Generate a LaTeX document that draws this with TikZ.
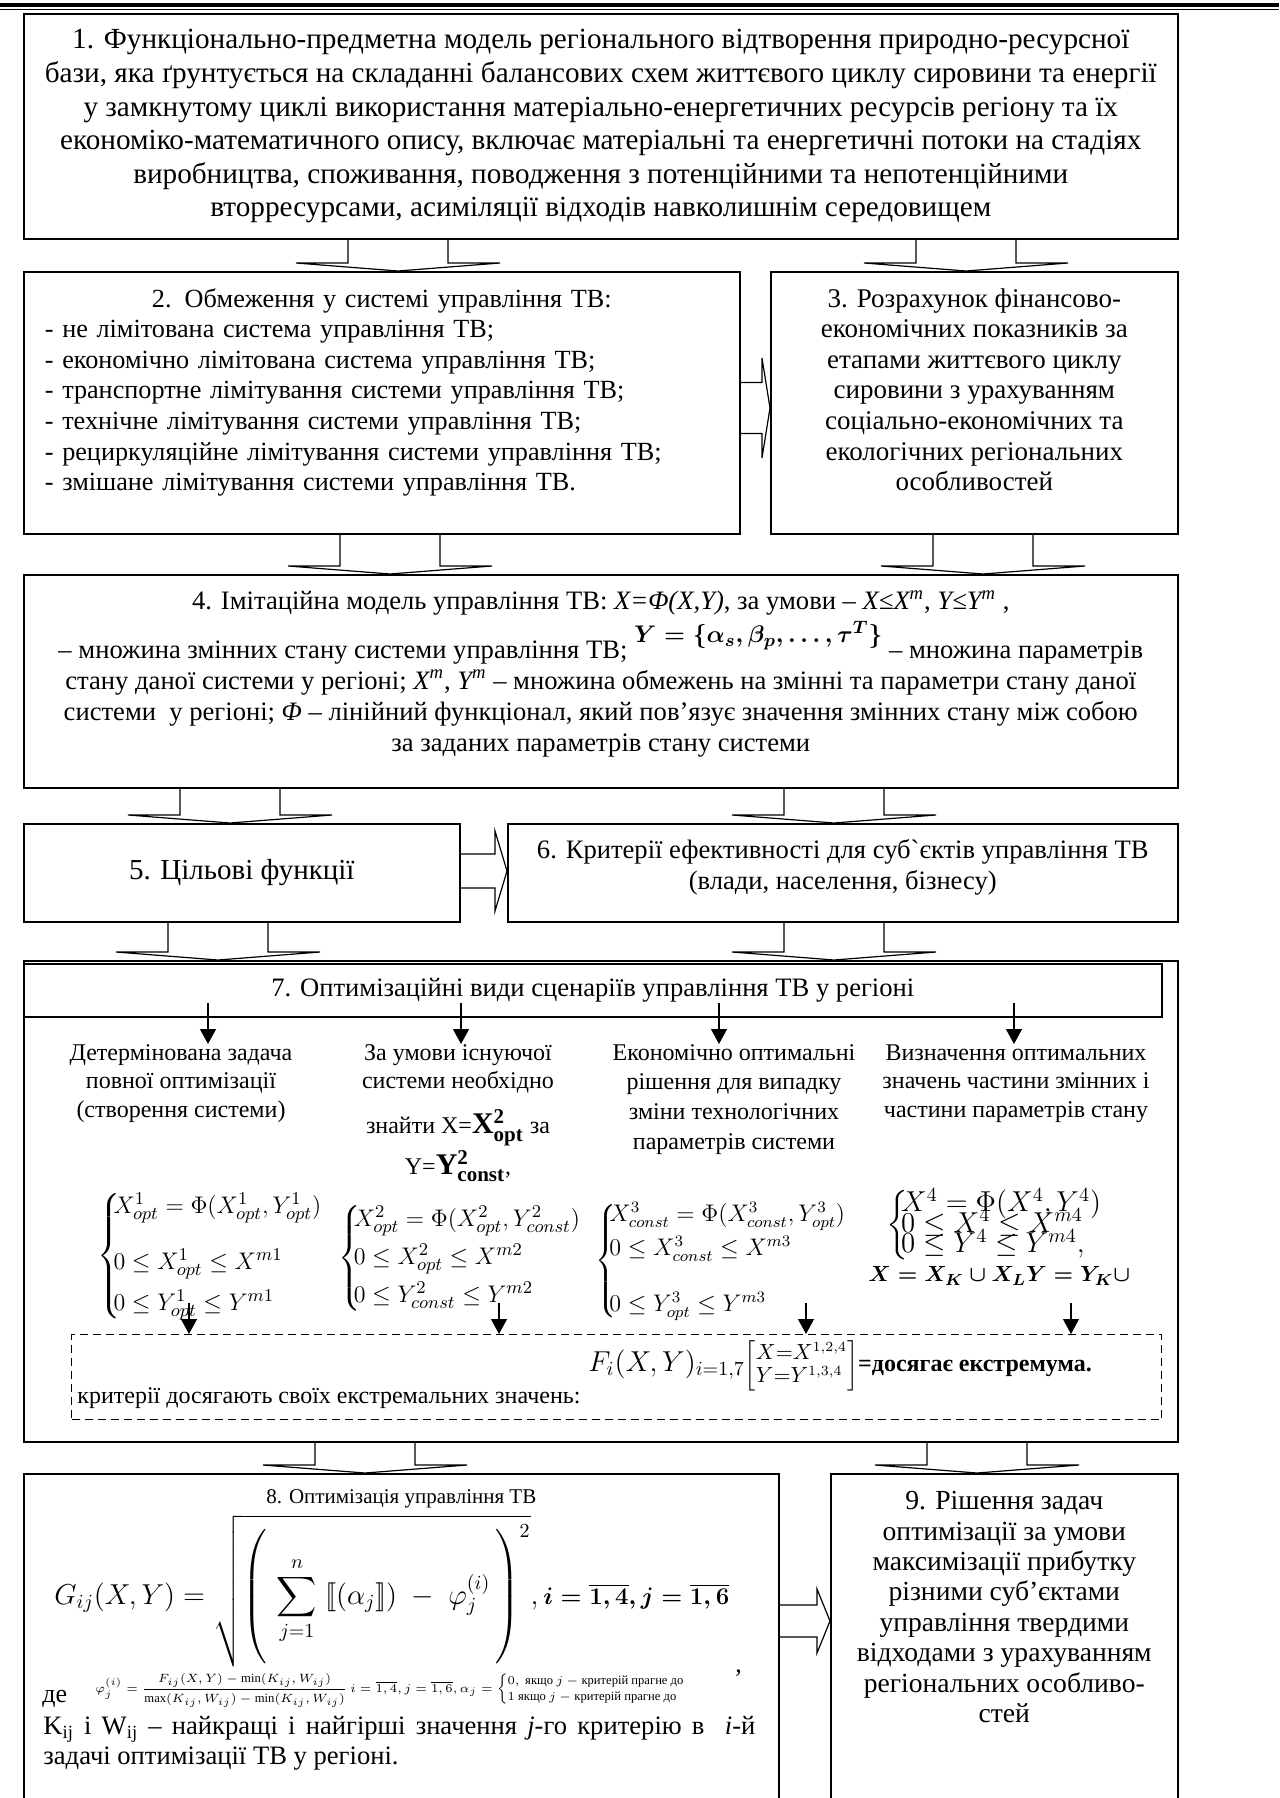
\documentclass[tikz,border=0pt]{standalone}
\usepackage{amsmath,amssymb}
\usepackage{fontspec}
\setmainfont{Liberation Serif}
\usetikzlibrary{arrows.meta, positioning, calc}

% hollow block arrows: start point, tip
\newcommand{\blkdown}[2]{%
  \draw[harr] let \p1=#1, \p2=#2 in
    (\x1-25pt,\y1) -- (\x1-25pt,\y2+4pt) -- (\x1-51pt,\y2+4pt) -- (\x1,\y2)
    -- (\x1+51pt,\y2+4pt) -- (\x1+25pt,\y2+4pt) -- (\x1+25pt,\y1);}
% start, tip, shaft half width, head half width, head length
\newcommand{\blkright}[5]{%
  \draw[harr] let \p1=#1, \p2=#2 in
    (\x1,\y2+#3) -- (\x2-#5,\y2+#3) -- (\x2-#5,\y2+#4) -- (\x2,\y2)
    -- (\x2-#5,\y2-#4) -- (\x2-#5,\y2-#3) -- (\x1,\y2-#3);}

\begin{document}
\begin{tikzpicture}[x=0.5pt, y=-0.5pt,
    blk/.style={rectangle, draw, line width=0.8pt, anchor=north west,
                inner sep=0pt, align=center},
    harr/.style={line width=0.6pt},
    arr/.style={-{Triangle[length=7.5pt, width=8pt]}, line width=0.6pt},
    txt/.style={inner sep=0pt, align=center},
    fml/.style={inner sep=0pt, anchor=west},
  ]
  \path[use as bounding box, clip] (0,0) rectangle (1279,1798);

  % top rule
  \draw[line width=1.6pt] (0,5) -- (1279,5);
  \draw[line width=0.5pt] (0,9.5) -- (1279,9.5);

  \node[blk, minimum width=577pt, minimum height=112.5pt,
        font=\fontsize{14.6}{16.8}\selectfont] (b1) at (23,13)
    {1. Функціонально-предметна модель регіонального відтворення природно-ресурсної\\
     бази, яка ґрунтується на складанні балансових схем життєвого циклу сировини та енергії\\
     у замкнутому циклі використання матеріально-енергетичних ресурсів регіону та їх\\
     економіко-математичного опису, включає матеріальні та енергетичні потоки на стадіях\\
     виробництва, споживання, поводження з потенційними та непотенційними\\
     вторресурсами, асиміляції відходів навколишнім середовищем};

  \node[blk, minimum width=358pt, minimum height=131pt] (b2) at (23,271) {};
  \node[txt, align=left, text width=337pt, below=8.5pt of b2.north,
        font=\fontsize{13.1}{15.3}\selectfont] (t2)
    {\makebox[337pt][c]{2. Обмеження у системі управління ТВ:}\\
     - не лімітована система управління ТВ;\\
     - економічно лімітована система управління ТВ;\\
     - транспортне лімітування системи управління ТВ;\\
     - технічне лімітування системи управління ТВ;\\
     - рециркуляційне лімітування системи управління ТВ;\\
     - змішане лімітування системи управління ТВ.};

  \node[blk, minimum width=203.5pt, minimum height=131pt] (b3) at (770,271) {};
  \node[txt, below=8.5pt of b3.north, font=\fontsize{13.5}{15.3}\selectfont] (t3)
    {3. Розрахунок фінансово-\\економічних показників за\\етапами життєвого циклу\\
     сировини з урахуванням\\соціально-економічних та\\екологічних регіональних\\особливостей};

  \node[blk, minimum width=577pt, minimum height=106.5pt] (b4) at (23,574) {};
  \node[txt, below=8pt of b4.north, font=\fontsize{13.3}{15.5}\selectfont] (t4)
    {4. Імітаційна модель управління ТВ: \textit{X=Φ(X,Y)}, за умови –
     \textit{X≤X\textsuperscript{m}}, \textit{Y≤Y\textsuperscript{m}} ,\\[2pt]
     – множина змінних стану системи управління ТВ;
     \raisebox{8pt}{\fontsize{12.5}{13}\selectfont$\boldsymbol{Y=\{\alpha_s,\beta_p,\dots,\tau^T\}}$}
     – множина параметрів\\
     стану даної системи у регіоні; \textit{X\textsuperscript{m}}, \textit{Y\textsuperscript{m}}
     – множина обмежень на змінні та параметри стану даної\\
     системи \ у регіоні; \textit{Φ} – лінійний функціонал, який пов’язує значення змінних стану між собою\\
     за заданих параметрів стану системи};

  \node[blk, minimum width=218pt, minimum height=49pt,
        font=\fontsize{14.5}{17}\selectfont] (b5) at (23,823) {5. Цільові функції};
  \node[blk, minimum width=335pt, minimum height=49pt] (b6) at (507,823) {};
  \node[txt, below=8pt of b6.north, font=\fontsize{13.3}{15.5}\selectfont] (t6)
    {6. Критерії ефективності для суб\textasciigrave єктів управління ТВ\\(влади, населення, бізнесу)};

  % block 7
  \node[blk, minimum width=577pt, minimum height=240.5pt] (b7) at (23,960) {};
  \node[blk, minimum width=569pt, minimum height=26.5pt,
        font=\fontsize{13.3}{15.5}\selectfont] (b7h) at (23,963)
    {7. Оптимізаційні види сценаріїв управління ТВ у регіоні};

  \node[txt, anchor=north, font=\fontsize{12}{14.3}\selectfont] (c1) at (181,1044)
    {Детермінована задача\\повної оптимізації\\(створення системи)};
  \node[txt, anchor=north, font=\fontsize{12}{14.3}\selectfont] (c2) at (458,1044)
    {За умови існуючої\\системи необхідно\\[7pt]
     знайти X={\fontsize{15}{15}\selectfont$\mathbf{X^2_{opt}}$} за\\[1.5pt]
     Y={\fontsize{15}{15}\selectfont$\mathbf{Y^2_{const}}$},};
  \node[txt, anchor=north, font=\fontsize{12}{14.8}\selectfont] (c3) at (734,1044)
    {Економічно оптимальні\\рішення для випадку\\зміни технологічних\\параметрів системи};
  \node[txt, anchor=north, font=\fontsize{12}{14.3}\selectfont] (c4) at (1016,1044)
    {Визначення оптимальних\\значень частини змінних і\\частини параметрів стану};

  \foreach \n/\x in {1/208, 2/461, 3/719, 4/1014}
    \coordinate (h\n) at (\x,1003);
  \foreach \n in {1,...,4}
    \draw[arr] (h\n) -- (h\n |- c\n.north);

  \node[fml, font=\fontsize{13}{15}\selectfont] (s1) at (97,1256)
    {$\left\{\kern-3.5pt\begin{array}{@{}l@{}}X^1_{opt}=\Phi(X^1_{opt},Y^1_{opt})\\[13pt]
      0\le X^1_{opt}\le X^{m1}\\[5.5pt]0\le Y^1_{opt}\le Y^{m1}\end{array}\right.$};
  \node[fml, font=\fontsize{12.6}{15}\selectfont] (s2) at (338,1258)
    {$\left\{\kern-3.5pt\begin{array}{@{}l@{}}X^2_{opt}=\Phi(X^2_{opt},Y^2_{const})\\[4pt]
      0\le X^2_{opt}\le X^{m2}\\[4pt]0\le Y^2_{const}\le Y^{m2}\end{array}\right.$};
  \node[fml, font=\fontsize{11.8}{14}\selectfont] (s3) at (595,1261)
    {$\left\{\kern-3.5pt\begin{array}{@{}l@{}}X^3_{const}=\Phi(X^3_{const},Y^3_{opt})\\[3pt]
      0\le X^3_{const}\le X^{m3}\\[14pt]0\le Y^3_{opt}\le Y^{m3}\end{array}\right.$};
  \node[fml, font=\fontsize{14.5}{15}\selectfont] (s4) at (886,1225)
    {$\left\{\kern-3.5pt\begin{array}{@{}l@{}}X^4=\Phi(X^4,Y^4)\\[-6pt]
      0\le X^4\le X^{m4}\\[-6pt]0\le Y^4\le Y^{m4},\end{array}\right.$};
  \node[fml, font=\fontsize{11}{13}\selectfont] (u4) at (868,1276)
    {$\boldsymbol{X=X_K\cup X_L Y=Y_K\cup}$};

  % dashed block with criteria
  \node[blk, dashed, dash pattern=on 4pt off 2.5pt, line width=0.7pt,
        minimum width=545pt, minimum height=42.5pt] (dsh) at (71,1334) {};
  \node[fml, font=\fontsize{12}{14}\selectfont] (dtx) at (77,1398)
    {критерії досягають своїх екстремальних значень:};
  \node[fml] (dfm) at (588,1366)
    {{\fontsize{14}{14}\selectfont$F_i(X,Y)_{i=1,7}$}%
     {\fontsize{10.5}{11}\selectfont$\left[\begin{array}{@{}l@{}}X{=}X^{1,2,4}\\
      Y{=}Y^{1,3,4}\end{array}\right]$}%
     {\fontsize{12}{13}\selectfont\textbf{=досягає екстремума.}}};

  \foreach \n/\x in {1/189, 2/499, 3/806, 4/1071}
    \coordinate (f\n) at (\x,1303);
  \foreach \n in {1,...,4}
    \draw[arr] (f\n) -- (f\n |- dsh.north);

  % blocks 8 and 9 (cut at the page bottom)
  \node[blk, minimum width=377.5pt, minimum height=180pt] (b8) at (23,1473) {};
  \node[blk, minimum width=173.5pt, minimum height=180pt] (b9) at (830,1473) {};

  \node[txt, below=8pt of b8.north, font=\fontsize{10.5}{12}\selectfont] (t8)
    {8. Оптимізація управління ТВ};
  \node[fml, font=\fontsize{14}{17}\selectfont] (g8) at (54,1591)
    {$\displaystyle G_{ij}(X,Y)=\sqrt{\left(\rule[-30pt]{0pt}{63pt}\,\sum_{j=1}^{n}\;[\![(\alpha_j]\!])\;
      -\;\varphi_j^{(i)}\,\right)^{2}},
      \mbox{\fontsize{12.5}{14}\selectfont$\boldsymbol{i=\overline{1,4},j=\overline{1,6}}$}$};
  \node[fml, font=\fontsize{13}{15}\selectfont] (cm8) at (735,1673) {,};
  \node[fml, font=\fontsize{13}{15}\selectfont] (de8) at (42,1699) {де};
  \node[fml, font=\fontsize{6.3}{6.8}\selectfont] (ph8) at (95,1690)
    {$\varphi_j^{(i)}=\dfrac{F_{ij}(X,Y)-\min(K_{ij},W_{ij})}{\max(K_{ij},W_{ij})-\min(K_{ij},W_{ij})}
      \ i=\overline{1,4}, j=\overline{1,6}, \alpha_j=\begin{cases}0,\text{ якщо } j-\text{критерій прагне до}\\
      1\text{ якщо } j-\text{критерій прагне до}\end{cases}$};
  \node[anchor=north west, inner sep=0pt, text width=356pt, align=justify,
        font=\fontsize{13.3}{15}\selectfont] (kw8) at (43,1716)
    {K\textsubscript{ij} і W\textsubscript{ij} – найкращі і найгірші значення \textit{j}-го
     критерію в \ \textit{i}-й\linebreak задачі оптимізації ТВ у регіоні.};

  \node[txt, below=9pt of b9.north, font=\fontsize{13.8}{15.2}\selectfont] (t9)
    {9. Рішення задач\\оптимізації за умови\\максимізації прибутку\\різними суб’єктами\\
     управління твердими\\відходами з урахуванням\\регіональних особливо-\\стей};

  % hollow arrows
  \foreach \n/\x in {12/398, 13/966, 24/390, 34/983, 45/230, 46/834, 57/218, 67/834, 78/365, 79/977}
    \coordinate (a\n) at (\x,0);
  \blkdown{(a12 |- b1.south)}{(a12 |- b2.north)}
  \blkdown{(a13 |- b1.south)}{(a13 |- b3.north)}
  \blkdown{(a24 |- b2.south)}{(a24 |- b4.north)}
  \blkdown{(a34 |- b3.south)}{(a34 |- b4.north)}
  \blkdown{(a45 |- b4.south)}{(a45 |- b5.north)}
  \blkdown{(a46 |- b4.south)}{(a46 |- b6.north)}
  \blkdown{(a57 |- b5.south)}{(a57 |- b7.north)}
  \blkdown{(a67 |- b6.south)}{(a67 |- b7.north)}
  \blkdown{(a78 |- b7.south)}{(a78 |- b8.north)}
  \blkdown{(a79 |- b7.south)}{(a79 |- b9.north)}

  \coordinate (r23) at (0,408);
  \coordinate (r56) at (0,871);
  \coordinate (r89) at (0,1621);
  \blkright{(b2.east |- r23)}{(b3.west |- r23)}{12.75pt}{25pt}{4pt}
  \blkright{(b5.east |- r56)}{(b6.west |- r56)}{8.5pt}{20pt}{6pt}
  \blkright{(b8.east |- r89)}{(b9.west |- r89)}{8pt}{16pt}{6.5pt}
\end{tikzpicture}
\end{document}
